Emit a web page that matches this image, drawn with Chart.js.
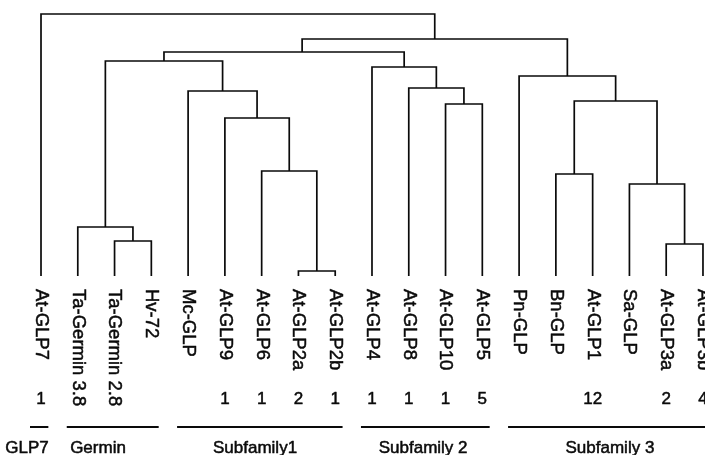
<!DOCTYPE html>
<html>
<head>
<meta charset="utf-8">
<script src="https://cdn.jsdelivr.net/npm/chart.js@4/dist/chart.umd.min.js"></script>
<style>
  body { margin: 0; background: #fff; }
</style>
</head>
<body>
<canvas id="arbol" width="705" height="455"></canvas>
<script>
// hojas del dendrograma, de izquierda a derecha
const leaves = ['At-GLP7', 'Ta-Germin 3.8', 'Ta-Germin 2.8', 'Hv-72', 'Mc-GLP', 'At-GLP9', 'At-GLP6',
    'At-GLP2a', 'At-GLP2b', 'At-GLP4', 'At-GLP8', 'At-GLP10', 'At-GLP5', 'Pn-GLP', 'Bn-GLP',
    'At-GLP1', 'Sa-GLP', 'At-GLP3a', 'At-GLP3b']
const counts = ['1', '', '', '', '', '1', '1', '2', '1', '1', '1', '1', '5', '', '', '12', '', '2', '4']

// uniones: nodo 19 + k = mergeLeft[k] con mergeRight[k] a la altura mergeHeight[k]
const mergeLeft   = [2, 1, 7, 6, 5, 4, 20, 11, 10, 9, 25, 17, 16, 14, 32, 13, 29, 0]
const mergeRight  = [3, 19, 8, 21, 22, 23, 24, 12, 26, 27, 28, 18, 30, 15, 31, 33, 34, 35]
const mergeHeight = [35, 49, 5, 105, 158, 185, 215, 172, 188, 209, 224, 32, 92, 102, 175, 200, 237, 262]
// punto de union que no cae en el centro (nodo 29)
const joinAt = { 29: 7.1 }

// grupos
const groupNames = ['GLP7', 'Germin', 'Subfamily1', 'Subfamily 2', 'Subfamily 3']
const groupFirst = [0, 1, 4, 9, 13]
const groupLast  = [0, 3, 8, 12, 18]
const groupLabelAt = [-0.38, 1.55, 5.82, 10.39, 15.47]

const nodeX = leaves.map((l, i) => i)
const nodeH = leaves.map(() => 0)
const segments = []
mergeLeft.forEach((a, k) => {
    const b = mergeRight[k]
    const h = mergeHeight[k]
    const id = leaves.length + k
    nodeX[id] = joinAt[id] !== undefined ? joinAt[id] : (nodeX[a] + nodeX[b]) / 2
    nodeH[id] = h
    segments.push([
        { x: nodeX[a], y: nodeH[a] },
        { x: nodeX[a], y: h },
        { x: nodeX[b], y: h },
        { x: nodeX[b], y: nodeH[b] }
    ])
})

const FONT = '"Liberation Sans", Arial, sans-serif'

// texto algo grueso, como en la figura original
function escribir(ctx, txt, x, y) {
    ctx.strokeText(txt, x, y)
    ctx.fillText(txt, x, y)
}

const textos = {
    id: 'textos',
    afterDraw(chart) {
        const ctx = chart.ctx
        const xs = chart.scales.x
        ctx.save()
        ctx.fillStyle = '#0a0a0a'
        ctx.strokeStyle = '#0a0a0a'
        ctx.lineWidth = 0.5
        ctx.lineJoin = 'round'

        // nombres girados
        ctx.font = '18.5px ' + FONT
        ctx.textAlign = 'left'
        ctx.textBaseline = 'middle'
        leaves.forEach((name, i) => {
            ctx.save()
            ctx.translate(xs.getPixelForValue(i), 289)
            ctx.rotate(Math.PI / 2)
            escribir(ctx, name, 0, 0)
            ctx.restore()
        })

        // conteos
        ctx.font = '17px ' + FONT
        ctx.textAlign = 'center'
        ctx.textBaseline = 'alphabetic'
        counts.forEach((c, i) => {
            if (c) escribir(ctx, c, xs.getPixelForValue(i), 404)
        })

        // lineas y nombres de grupo
        groupNames.forEach((g, i) => {
            ctx.lineWidth = 2
            ctx.beginPath()
            ctx.moveTo(xs.getPixelForValue(groupFirst[i] - 0.3), 427)
            ctx.lineTo(xs.getPixelForValue(groupLast[i] + 0.2), 427)
            ctx.stroke()
            ctx.lineWidth = 0.5
            ctx.font = '17px ' + FONT
            escribir(ctx, g, xs.getPixelForValue(groupLabelAt[i]), 453)
        })
        ctx.restore()
    }
}

new Chart(document.getElementById('arbol'), {
    type: 'scatter',
    data: {
        datasets: segments.map(s => ({
            data: s,
            showLine: true,
            borderColor: '#0a0a0a',
            borderWidth: 1.7,
            pointRadius: 0,
            tension: 0,
            clip: false
        }))
    },
    options: {
        responsive: false,
        animation: false,
        layout: { padding: { left: 0, right: 0, top: 0, bottom: 179 } },
        scales: {
            x: { type: 'linear', min: -1.115, max: 18.055, display: false },
            y: { type: 'linear', min: 0, max: 276, display: false }
        },
        plugins: {
            legend: { display: false },
            tooltip: { enabled: false }
        }
    },
    plugins: [textos]
});
</script>
</body>
</html>
